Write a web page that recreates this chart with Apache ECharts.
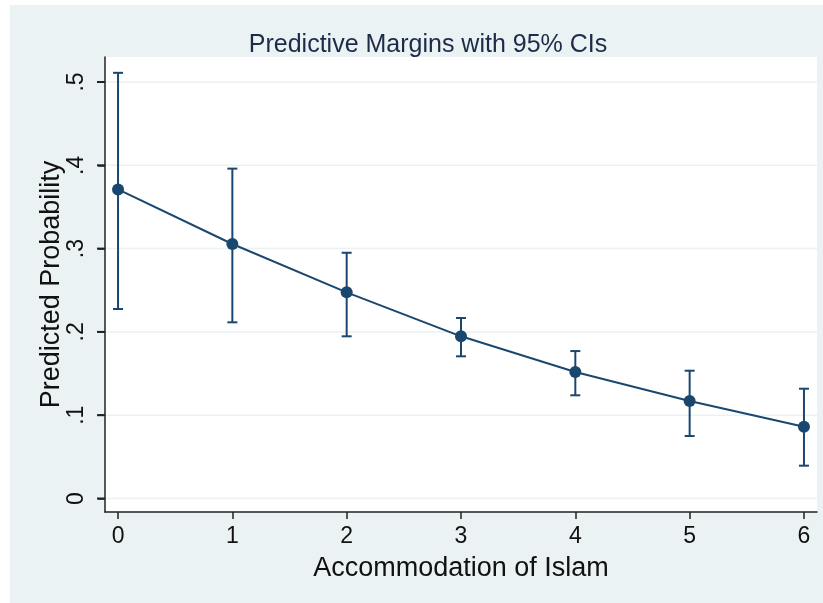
<!DOCTYPE html>
<html>
<head>
<meta charset="utf-8">
<script src="https://cdn.jsdelivr.net/npm/echarts@6/dist/echarts.min.js"></script>
<style>
  html, body { margin: 0; padding: 0; background: #ffffff; }
  #chart { width: 823px; height: 603px; }
</style>
</head>
<body>
<div id="chart"></div>
<script>
// Predicted probability by level of accommodation, with 95% confidence intervals
const accommodation = [0, 1, 2, 3, 4, 5, 6];
const margin = [0.371, 0.3055, 0.2475, 0.1947, 0.1519, 0.117, 0.0862];
const ciLower = [0.2275, 0.2115, 0.1947, 0.1707, 0.1239, 0.075, 0.0394];
const ciUpper = [0.511, 0.396, 0.295, 0.2167, 0.177, 0.1534, 0.1318];

const yTickValues = [0, 0.1, 0.2, 0.3, 0.4, 0.5];
const yTickLabels = ['0', '.1', '.2', '.3', '.4', '.5'];
const xTickValues = [0, 1, 2, 3, 4, 5, 6];

const navy = '#1a476f';
const bgTint = '#eaf2f3';
const axisInk = '#222';
const font = '"Liberation Sans", Arial, Helvetica, sans-serif';

const X_MIN = -0.114, X_MAX = 6.114;
const Y_MIN = -0.0162, Y_MAX = 0.53;

const chart = echarts.init(document.getElementById('chart'), null, { renderer: 'canvas' });

const ciData = accommodation.map((x, i) => [x, ciLower[i], ciUpper[i]]);
const pointData = accommodation.map((x, i) => [x, margin[i]]);
const yTickData = yTickValues.map(v => [X_MIN, v]);

chart.setOption({
  backgroundColor: bgTint,
  animation: false,
  title: {
    text: 'Predictive Margins with 95% CIs',
    left: 423,
    top: 28,
    textAlign: 'center',
    textStyle: { fontFamily: font, fontWeight: 'normal', fontSize: 25, color: '#1d2b48' }
  },
  grid: {
    left: 105, right: 6, top: 57, bottom: 91,
    show: true,
    backgroundColor: '#ffffff',
    borderWidth: 0
  },
  xAxis: {
    type: 'value',
    min: X_MIN,
    max: X_MAX,
    name: 'Accommodation of Islam',
    nameLocation: 'middle',
    nameGap: 43,
    nameTextStyle: { fontFamily: font, fontSize: 27, color: '#111' },
    axisLine: { show: true, onZero: false, lineStyle: { color: axisInk, width: 1.5 } },
    axisTick: { show: true, length: 7, customValues: xTickValues, lineStyle: { color: axisInk, width: 1.5 } },
    axisLabel: {
      customValues: xTickValues,
      margin: 13,
      fontFamily: font, fontSize: 23, color: '#111'
    },
    splitLine: { show: false }
  },
  yAxis: {
    type: 'value',
    min: Y_MIN,
    max: Y_MAX,
    name: 'Predicted Probability',
    nameLocation: 'middle',
    nameRotate: 90,
    nameGap: 40,
    nameMoveOverlap: false,
    nameTextStyle: { fontFamily: font, fontSize: 27, color: '#111' },
    axisLine: { show: true, onZero: false, lineStyle: { color: axisInk, width: 1.5 } },
    axisTick: { show: true, inside: false, length: 7, customValues: yTickValues, lineStyle: { color: axisInk, width: 1.5 } },
    axisLabel: {
      customValues: yTickValues,
      rotate: 90,
      margin: 17,
      fontFamily: font, fontSize: 23, color: '#111',
      formatter: v => {
        const i = yTickValues.findIndex(t => Math.abs(t - v) < 1e-9);
        return i >= 0 ? yTickLabels[i] : '';
      }
    },
    splitLine: { show: false }
  },
  series: [
    {
      // light horizontal reference lines at each labelled value
      type: 'custom',
      silent: true,
      z: 0,
      data: yTickData,
      encode: { x: 0, y: 1 },
      renderItem: (params, api) => {
        const left = api.coord([X_MIN, api.value(1)]);
        const right = api.coord([X_MAX, api.value(1)]);
        return {
          type: 'line',
          shape: { x1: left[0], y1: left[1], x2: right[0], y2: right[1] },
          style: { stroke: bgTint, lineWidth: 1.5 }
        };
      }
    },
    {
      // confidence interval whiskers with caps
      type: 'custom',
      z: 2,
      data: ciData,
      encode: { x: 0, y: [1, 2] },
      renderItem: (params, api) => {
        const x = api.value(0);
        const lo = api.coord([x, api.value(1)]);
        const hi = api.coord([x, api.value(2)]);
        const cap = 5;
        const style = { stroke: navy, lineWidth: 2 };
        return {
          type: 'group',
          children: [
            { type: 'line', shape: { x1: lo[0], y1: lo[1], x2: hi[0], y2: hi[1] }, style },
            { type: 'line', shape: { x1: hi[0] - cap, y1: hi[1], x2: hi[0] + cap, y2: hi[1] }, style },
            { type: 'line', shape: { x1: lo[0] - cap, y1: lo[1], x2: lo[0] + cap, y2: lo[1] }, style }
          ]
        };
      }
    },
    {
      type: 'line',
      z: 3,
      data: pointData,
      symbol: 'circle',
      symbolSize: 12,
      lineStyle: { color: navy, width: 2 },
      itemStyle: { color: navy }
    }
  ]
});

// Outward tick marks on the vertical axis plus the white canvas edges
const tickMarks = yTickValues.map((v, i) => {
  const p = chart.convertToPixel({ xAxisIndex: 0, yAxisIndex: 0 }, [X_MIN, v]);
  return {
    type: 'rect',
    silent: true,
    z: 50,
    shape: { x: p[0] - 8, y: p[1] - 1, width: 8, height: 2 },
    style: { fill: axisInk }
  };
});
chart.setOption({
  graphic: [
    { type: 'rect', silent: true, z: 100, shape: { x: 0, y: 0, width: 823, height: 5 }, style: { fill: '#ffffff' } },
    { type: 'rect', silent: true, z: 100, shape: { x: 0, y: 0, width: 10, height: 603 }, style: { fill: '#ffffff' } }
  ].concat(tickMarks)
});
</script>
</body>
</html>
